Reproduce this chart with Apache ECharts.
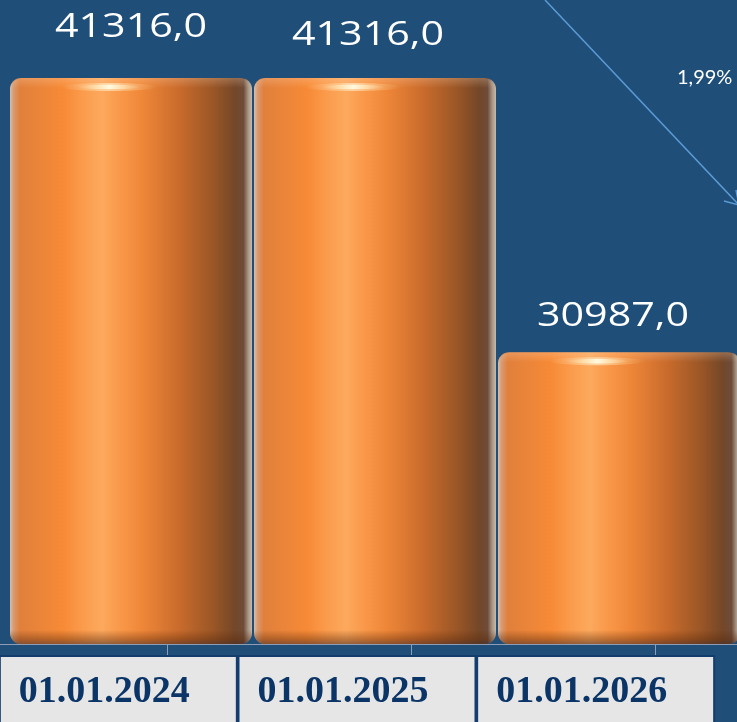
<!DOCTYPE html>
<html><head><meta charset="utf-8">
<script src="https://cdn.jsdelivr.net/npm/echarts@6/dist/echarts.min.js"></script>
<style>html,body{margin:0;padding:0;background:#1F4E79;} #c{width:737px;height:722px;}</style>
</head><body><div id="c"></div>
<script>
// ---- data ----
const categories = ['01.01.2024', '01.01.2025', '01.01.2026'];
const values = [41316.0, 41316.0, 30987.0];
const changeLabel = '1,99%';
const yMin = 20000;
const yMax = 44250;

// ---- styles (not data) ----
const labelLift = [50, 42, 36];   // distance from bar top to label centre
const labelShift = [0, -7, -6];

const fmt = v => v.toFixed(1).replace('.', ',');

const barGradient = {
  type: 'linear', x: 0, y: 0, x2: 1, y2: 0,
  colorStops: [
    { offset: 0, color: '#d8bca8' },
    { offset: 0.015, color: '#d99a70' },
    { offset: 0.04, color: '#E0803C' },
    { offset: 0.22, color: '#F78A36' },
    { offset: 0.3, color: '#FB9B4C' },
    { offset: 0.38, color: '#FCA95E' },
    { offset: 0.46, color: '#F99748' },
    { offset: 0.55, color: '#EE8638' },
    { offset: 0.7, color: '#C96B2C' },
    { offset: 0.84, color: '#9A5626' },
    { offset: 0.93, color: '#734728' },
    { offset: 0.965, color: '#6E4C38' },
    { offset: 0.985, color: '#a89888' },
    { offset: 1, color: '#c8b8a8' }
  ]
};

const glowGradient = {
  type: 'linear', x: 0, y: 0, x2: 1, y2: 0,
  colorStops: [
    { offset: 0, color: 'rgba(255,220,160,0)' },
    { offset: 0.3, color: 'rgba(255,235,190,0.7)' },
    { offset: 0.5, color: 'rgba(255,250,225,1)' },
    { offset: 0.7, color: 'rgba(255,235,190,0.7)' },
    { offset: 1, color: 'rgba(255,220,160,0)' }
  ]
};

function renderBar(params, api) {
  const i = params.dataIndex;
  const v = api.value(1);
  const top = api.coord([api.value(0), v]);
  const base = api.coord([api.value(0), yMin]);
  const bandW = api.size([1, 0])[0];
  const w = bandW - 2;
  const x = top[0] - w / 2;
  const y = top[1];
  const h = base[1] - top[1];
  return {
    type: 'group',
    children: [
      { type: 'rect', shape: { x: x, y: y, width: w, height: h, r: 11 }, style: { fill: barGradient } },
      { type: 'rect', shape: { x: x, y: y + h - 14, width: w, height: 14, r: [0, 0, 11, 11] },
        style: { fill: { type: 'linear', x: 0, y: 0, x2: 0, y2: 1, colorStops: [
          { offset: 0, color: 'rgba(90,40,10,0)' },
          { offset: 0.6, color: 'rgba(90,40,10,0.35)' },
          { offset: 1, color: 'rgba(60,40,40,0.55)' }] } } },
      { type: 'rect', shape: { x: x + 2, y: y, width: w - 4, height: 10, r: [11, 11, 0, 0] },
        style: { fill: { type: 'linear', x: 0, y: 0, x2: 0, y2: 1, colorStops: [
          { offset: 0, color: 'rgba(255,220,190,0.25)' },
          { offset: 1, color: 'rgba(255,220,190,0)' }] } } },
      { type: 'ellipse', shape: { cx: x + w * 0.41, cy: y + 9, rx: w * 0.2, ry: 4 },
        style: { fill: glowGradient, opacity: 0.55 } },
      { type: 'ellipse', shape: { cx: x + w * 0.41, cy: y + 9, rx: w * 0.13, ry: 2.2 },
        style: { fill: glowGradient } },
      { type: 'text', x: top[0] + labelShift[i], y: y - labelLift[i], scaleX: 1.25,
        style: { text: fmt(v), fill: '#FFFFFF', font: '33px "Open Sans"', align: 'center', verticalAlign: 'middle' } }
    ]
  };
}

const chart = echarts.init(document.getElementById('c'));
chart.setOption({
  backgroundColor: '#1F4E79',
  animation: false,
  grid: [
    { left: 9, right: -4, top: 0, bottom: 78, outerBoundsMode: 'none', containLabel: false },
    { left: 45, right: -40, top: 0, bottom: 78, outerBoundsMode: 'none', containLabel: false },
    { left: -1, right: 22, top: 0, bottom: 78, outerBoundsMode: 'none', containLabel: false }
  ],
  xAxis: [
    { type: 'category', gridIndex: 0, data: categories, axisLine: { show: false }, axisTick: { show: false }, axisLabel: { show: false } },
    { type: 'category', gridIndex: 1, data: categories,
      axisLine: { show: true, lineStyle: { color: '#8E9DB3', width: 1 } },
      axisTick: { show: true, alignWithLabel: true, length: 13, lineStyle: { color: '#8E9DB3', width: 1 } },
      axisLabel: { show: false } },
    { type: 'category', gridIndex: 2, data: categories,
      axisLine: { show: true, lineStyle: { color: '#8E9DB3', width: 1 } },
      axisTick: { show: false },
      axisLabel: {
        show: true, interval: 0, margin: 13,
        formatter: v => '{b|' + v + '}',
        rich: {
          b: {
            width: 217, height: 70, padding: [0, 0, 0, 18], align: 'left',
            backgroundColor: '#E6E6E6', borderColor: '#123D6E', borderWidth: 2,
            color: '#0B3566', fontFamily: 'Liberation Serif', fontWeight: 'bold', fontSize: 38
          }
        }
      } }
  ],
  yAxis: [0, 1, 2].map(g => ({ type: 'value', gridIndex: g, min: yMin, max: yMax, show: false, splitLine: { show: false } })),
  series: [{
    type: 'custom', xAxisIndex: 0, yAxisIndex: 0,
    renderItem: renderBar,
    data: categories.map((c, i) => [i, values[i]]),
    clip: false
  }],
  graphic: [
    { type: 'line', shape: { x1: 545, y1: 0, x2: 739, y2: 205 }, style: { stroke: '#5B9BD5', lineWidth: 1.5 } },
    { type: 'polyline', shape: { points: [[724, 201], [739, 205], [736, 190]] }, style: { stroke: '#5B9BD5', lineWidth: 1.5, fill: null } },
    { type: 'text', x: 677, y: 68, style: { text: changeLabel, fill: '#FFFFFF', font: '20px Lato' } }
  ]
});
</script></body></html>
